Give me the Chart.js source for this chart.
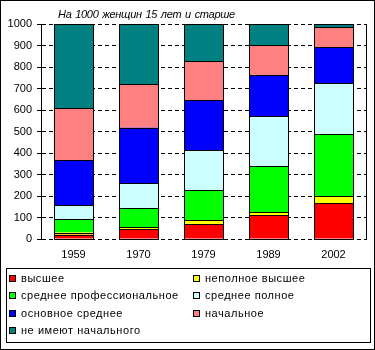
<!DOCTYPE html>
<html>
<head>
<meta charset="utf-8">
<script src="https://cdn.jsdelivr.net/npm/chart.js@4"></script>
<style>
  body { margin: 0; background: #fff; }
  #box { position: relative; width: 375px; height: 350px; font-family: "Liberation Sans", Arial, sans-serif; color: #000; }
  #chart { position: absolute; left: 0; top: 0; }
  #frame { position: absolute; left: 0; top: 0; width: 375px; height: 350px; box-sizing: border-box; border: 1px solid #000; pointer-events: none; }
  #caption { position: absolute; left: 58px; top: 8px; font-size: 11px; font-style: italic; letter-spacing: -0.3px; word-spacing: 1px; white-space: nowrap; }
  #legend { position: absolute; left: 6px; top: 268px; width: 365px; height: 75px; box-sizing: border-box; border: 1px solid #000; }
  .item { position: absolute; height: 14px; display: flex; align-items: center; font-size: 11px; letter-spacing: 0.55px; white-space: nowrap; }
  .sw { width: 5px; height: 5px; border: 1px solid #000; margin-right: 5px; }
</style>
</head>
<body>
<div id="box">
  <canvas id="chart" width="375" height="350"></canvas>
  <div id="caption">На 1000 женщин 15 лет и старше</div>
  <div id="legend"></div>
  <div id="frame"></div>
</div>
<script>
// годы переписей
const years = ["1959", "1970", "1979", "1989", "2002"];

// уровень образования, на 1000 женщин
const vysshee = [20, 46, 68, 110, 166];
const nepolnoeVysshee = [10, 10, 20, 14, 33];
const sredneeProf = [62, 87, 138, 214, 288];
const srednePolnoe = [65, 116, 187, 233, 237];
const osnovnoeSrednee = [210, 259, 232, 190, 168];
const nachalnoe = [240, 202, 181, 140, 93];
const neImeyut = [393, 280, 174, 99, 15];

const yTicks = [0, 100, 200, 300, 400, 500, 600, 700, 800, 900, 1000];

const series = [
  { label: "высшее", data: vysshee, color: "#FF0000" },
  { label: "неполное высшее", data: nepolnoeVysshee, color: "#FFFF00" },
  { label: "среднее профессиональное", data: sredneeProf, color: "#00FF00" },
  { label: "среднее полное", data: srednePolnoe, color: "#CCFFFF" },
  { label: "основное среднее", data: osnovnoeSrednee, color: "#0000FF" },
  { label: "начальное", data: nachalnoe, color: "#FF8080" },
  { label: "не имеют начального", data: neImeyut, color: "#008080" },
];

Chart.defaults.font.family = '"Liberation Sans", Arial, sans-serif';
Chart.defaults.font.size = 11;
Chart.defaults.color = "#000";

// тонкая чёрная обводка сегментов и правая граница области построения
const outlines = {
  id: "outlines",
  afterDatasetsDraw(chart) {
    const ctx = chart.ctx;
    const area = chart.chartArea;
    ctx.save();
    ctx.strokeStyle = "#000";
    ctx.lineWidth = 1;
    chart.data.datasets.forEach((ds, i) => {
      chart.getDatasetMeta(i).data.forEach((bar) => {
        const p = bar.getProps(["x", "y", "base", "width"], true);
        const l = Math.round(p.x - p.width / 2) + 0.5;
        const r = Math.round(p.x + p.width / 2) + 0.5;
        const t = Math.round(Math.min(p.y, p.base)) + 0.5;
        const b = Math.round(Math.max(p.y, p.base)) + 0.5;
        ctx.strokeRect(l, t, r - l, b - t);
      });
    });
    const xr = Math.round(area.right) + 0.5;
    ctx.beginPath();
    ctx.moveTo(xr, Math.round(area.top));
    ctx.lineTo(xr, Math.round(area.bottom) + 1);
    ctx.stroke();
    ctx.restore();
  },
};

const chart = new Chart(document.getElementById("chart"), {
  type: "bar",
  data: {
    labels: years,
    datasets: series.map((s) => ({
      label: s.label,
      data: s.data,
      backgroundColor: s.color,
      borderWidth: 0,
      barPercentage: 0.6,
      categoryPercentage: 1,
    })),
  },
  options: {
    responsive: false,
    animation: false,
    events: [],
    layout: { padding: { left: 0, top: 24, right: 9, bottom: 0 } },
    plugins: {
      legend: { display: false },
      tooltip: { enabled: false },
    },
    scales: {
      x: {
        stacked: true,
        grid: { display: false, drawTicks: false },
        border: { display: false },
        ticks: { padding: 9 },
        afterFit: (scale) => { scale.height = 111; },
      },
      y: {
        stacked: true,
        min: 0,
        max: 1000,
        afterBuildTicks: (scale) => { scale.ticks = yTicks.map((v) => ({ value: v })); },
        ticks: { padding: 5, callback: (v) => String(v) },
        grid: {
          color: "#000",
          tickColor: "#000",
          tickLength: 4,
          tickBorderDash: [],
        },
        border: { display: true, color: "#000", width: 1, dash: [4, 3] },
        afterFit: (scale) => { scale.width = 41; },
      },
    },
  },
  plugins: [outlines],
});

// легенда в две колонки
const legend = document.getElementById("legend");
chart.data.datasets.forEach((ds, i) => {
  const item = document.createElement("div");
  item.className = "item";
  item.style.left = (i % 2 === 0 ? 2 : 186) + "px";
  item.style.top = [2, 19, 37, 54][Math.floor(i / 2)] + "px";
  const sw = document.createElement("span");
  sw.className = "sw";
  sw.style.background = ds.backgroundColor;
  item.appendChild(sw);
  item.appendChild(document.createTextNode(ds.label));
  legend.appendChild(item);
});
</script>
</body>
</html>
